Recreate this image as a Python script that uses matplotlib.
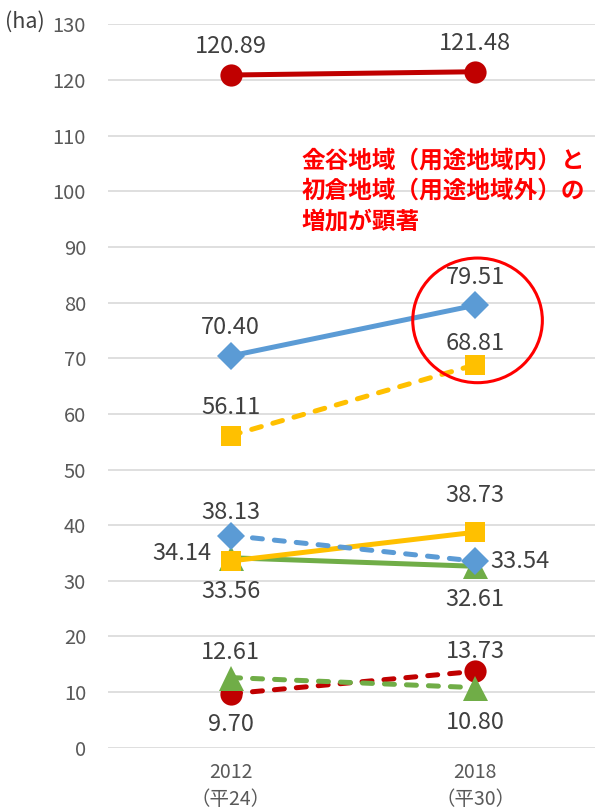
import numpy as np
import matplotlib
matplotlib.use("Agg")
import matplotlib.pyplot as plt
from matplotlib.patches import Ellipse

plt.rcParams['font.family'] = ['Noto Sans CJK JP', 'DejaVu Sans']

categories = ["2012\n（平24）", "2018\n（平30）"]
yTicks = np.arange(0, 131, 10)

# series values (ha)
redSolid = [120.89, 121.48]
blueSolid = [70.40, 79.51]
yellowDash = [56.11, 68.81]
blueDash = [38.13, 33.54]
yellowSolid = [33.56, 38.73]
greenSolid = [34.14, 32.61]
greenDash = [12.61, 10.80]
redDash = [9.70, 13.73]

note = "金谷地域（用途地域内）と\n初倉地域（用途地域外）の\n増加が顕著"

RED, BLUE, YELLOW, GREEN = "#C00000", "#5B9BD5", "#FFC000", "#70AD47"
dashStyle = (0, (2.0, 2.4))

fig = plt.figure(figsize=(5.95, 8.11), dpi=100)
ax = fig.add_axes([0.182, 0.078, 0.822, 0.892])
x = np.arange(len(categories))


def above(dy):
    return (0, dy, "center", "bottom")


def below(dy):
    return (0, -dy, "center", "top")


# (values, color, linestyle, marker, markersize, label offsets per point)
series = [
    (redDash, RED, dashStyle, "o", 16, [below(14), above(6)]),
    (redSolid, RED, "-", "o", 16, [above(12), above(12)]),
    (greenSolid, GREEN, "-", "^", 18, [(-14, 3, "right", "center"), below(16)]),
    (greenDash, GREEN, dashStyle, "^", 18, [above(10), below(17)]),
    (yellowDash, YELLOW, dashStyle, "s", 15, [above(12), above(7)]),
    (yellowSolid, YELLOW, "-", "s", 15, [below(14), above(18)]),
    (blueSolid, BLUE, "-", "D", 14, [above(12), above(12)]),
    (blueDash, BLUE, dashStyle, "D", 14, [above(8), (11, 0, "left", "center")]),
]

for vals, col, ls, mk, ms, offs in series:
    ax.plot(x, vals, color=col, linestyle=ls, linewidth=3.6, marker=mk, markersize=ms,
            dash_capstyle="round", solid_capstyle="butt", markeredgewidth=0, zorder=3)
    for xi, v, (dx, dy, ha, va) in zip(x, vals, offs):
        ax.annotate(f"{v:.2f}", (xi, v), xytext=(dx, dy), textcoords="offset points",
                    ha=ha, va=va, fontsize=17, color="#404040", zorder=5)

ax.set_xlim(-0.5, 1.5)
ax.set_ylim(0, 130)
ax.set_yticks(yTicks)
ax.set_xticks(x)
ax.set_xticklabels(categories, fontsize=14, color="#595959", linespacing=1.4)
ax.tick_params(axis="y", labelsize=14.5, labelcolor="#595959", length=0, pad=16)
ax.tick_params(axis="x", length=0, pad=10)
ax.grid(axis="y", color="#d9d9d9", linewidth=1.2, zorder=0)
ax.set_axisbelow(True)
for s in ax.spines.values():
    s.set_visible(False)

ax.add_patch(Ellipse((1.01, 76.8), 0.53, 22.4, fill=False, edgecolor="#FF0000",
                     linewidth=2.2, zorder=6))
ax.text(0.29, 107.6, note, fontsize=17, color="#FF0000", fontweight="bold",
        ha="left", va="top", linespacing=1.32, zorder=6)
fig.text(0.008, 0.973, "(ha)", fontsize=15.5, color="#404040", ha="left", va="center")

plt.savefig("out.png", dpi=100)
plt.close()
